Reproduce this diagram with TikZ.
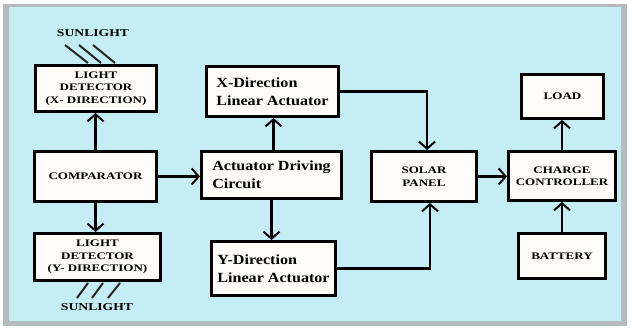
\documentclass[tikz,border=0pt]{standalone}
\usepackage{fontspec}
\setmainfont{Liberation Serif}
\newfontfamily\capsfont[FakeStretch=1.3]{Liberation Serif}
\newfontfamily\mixfont[FakeStretch=1.15]{Liberation Serif}
\usetikzlibrary{arrows.meta}
\definecolor{panelblue}{HTML}{C4EDF4}
\definecolor{boxfill}{HTML}{FFFBF8}
\definecolor{shadowgray}{HTML}{B4BBBE}
\begin{document}
\begin{tikzpicture}[x=1pt,y=-1pt,
  box/.style={draw=black, line width=3pt, fill=boxfill, inner sep=0pt, align=center},
  capsbox/.style={box, font=\capsfont\bfseries\fontsize{10}{12.5}\selectfont},
  mixbox/.style={box, align=left,
     font=\mixfont\bfseries\fontsize{14}{18}\selectfont},
  conn/.style={line width=2.5pt, -{Straight Barb[length=7pt,width=16pt,line width=2pt]}},
  hatch/.style={line width=2pt, black!85},
  sun/.style={font=\capsfont\bfseries\fontsize{10.5}{12}\selectfont, inner sep=0pt}
]
\useasboundingbox (0,0) rectangle (631,328);
\fill[white] (0,0) rectangle (631,328);
\fill[shadowgray] (3,4) rectangle (627,326);
\fill[panelblue] (9,7) rectangle (621,321);

% nodes
\node[capsbox, minimum width=121pt, minimum height=46pt] (ldx) at (96,88.5) {LIGHT\\DETECTOR\\(X- DIRECTION)};
\node[capsbox, minimum width=122pt, minimum height=50pt] (comp) at (95.5,176.5) {COMPARATOR};
\node[capsbox, minimum width=126pt, minimum height=47pt] (ldy) at (97.5,257) {LIGHT\\DETECTOR\\(Y- DIRECTION)};

\node[mixbox, minimum width=132pt, minimum height=50pt] (xact) at (272.5,91.5) {X-Direction\\Linear Actuator};
\node[mixbox, minimum width=140pt, minimum height=47pt] (adc) at (271.5,175) {Actuator Driving\\Circuit};
\node[mixbox, minimum width=124pt, minimum height=54pt] (yact) at (273.5,268.5) {Y-Direction\\Linear Actuator};

\node[capsbox, minimum width=105pt, minimum height=50pt] (solar) at (424,176.5) {SOLAR\\PANEL};
\node[capsbox, minimum width=107pt, minimum height=49pt] (cc) at (562,176) {CHARGE\\CONTROLLER};
\node[capsbox, minimum width=82pt, minimum height=44pt] (load) at (562.5,96.5) {LOAD};
\node[capsbox, minimum width=87pt, minimum height=45pt] (batt) at (562,256) {BATTERY};

% sunlight labels
\node[sun] (sun1) at (93,33) {SUNLIGHT};
\node[sun] (sun2) at (97,307) {SUNLIGHT};

% hatch lines
\draw[hatch] (65,45) -- (88,63);
\draw[hatch] (79,45) -- (101,63);
\draw[hatch] (93,45) -- (115,63);
\draw[hatch] (88,283) -- (77,298);
\draw[hatch] (103,283) -- (92,298);
\draw[hatch] (120,283) -- (108,298);

% connectors
\draw[conn] (comp.north) -- (comp.north |- ldx.south);
\draw[conn] (comp.south) -- (comp.south |- ldy.north);
\draw[conn] (comp.east) -- (comp.east -| adc.west);
\draw[conn] ([xshift=2pt]adc.north) -- ([xshift=2pt]adc.north |- xact.south);
\draw[conn] (adc.south) -- (adc.south |- yact.north);
\draw[conn] (xact.east) -| ([xshift=3pt]solar.north);
\draw[conn] (yact.east) -| ([xshift=6pt]solar.south);
\draw[conn] (solar.east) -- (solar.east -| cc.west);
\draw[conn] (cc.north) -- (cc.north |- load.south);
\draw[conn] (batt.north) -- (batt.north |- cc.south);
\end{tikzpicture}
\end{document}
